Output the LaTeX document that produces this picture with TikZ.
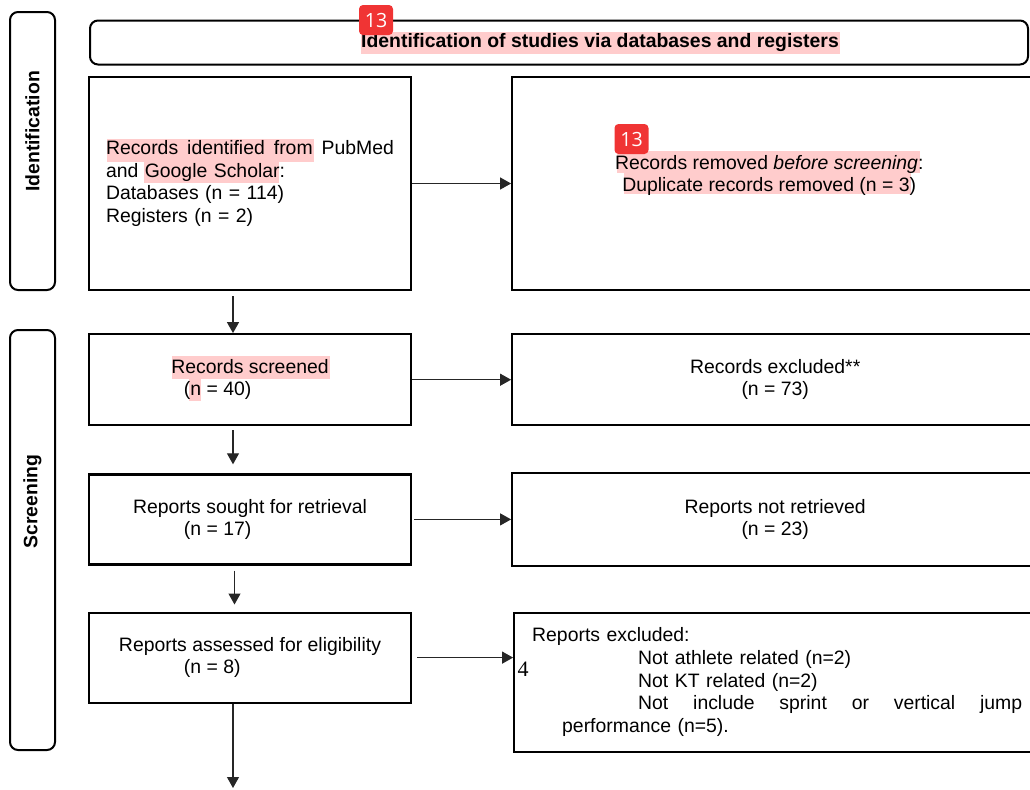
\documentclass[tikz,border=0pt]{standalone}
\usepackage{fontspec}
\setmainfont{Liberation Sans}
\newfontfamily\badgefont{Open Sans}
\newfontfamily\serifdigit{Liberation Serif}
\usetikzlibrary{arrows.meta,positioning,backgrounds,calc}
\definecolor{badgered}{RGB}{240,52,52}
\newcommand{\flowfont}{\fontsize{9.7}{11.2}\selectfont}
\newcommand{\nrow}[1]{\makebox[66pt][l]{#1}}

\begin{document}
\begin{tikzpicture}[x=0.5pt, y=-0.5pt,
  font=\flowfont,
  box/.style={draw, line width=1.1pt, align=center, inner sep=0pt, minimum width=161pt},
  rbox/.style={draw, line width=1.1pt, align=center, inner sep=0pt, minimum width=263pt},
  side/.style={draw, line width=1pt, rounded corners=4pt, minimum width=22.5pt},
  sidetxt/.style={rotate=90, inner sep=0pt, font=\flowfont\bfseries},
  hl/.style={fill=red!20, draw=none},
  badge/.style={fill=badgered, rounded corners=2pt, text=white, inner sep=0pt,
    font=\badgefont\fontsize{9.8}{10}\selectfont, minimum width=17pt, minimum height=15pt},
  arr/.style={->, line width=0.6pt, black!85},
  >={Triangle[length=5.5pt,width=6pt]}]
\useasboundingbox (0,0) rectangle (1030,789);
\clip (0,0) rectangle (1030,789);
% phase bars
\node[side, minimum height=139pt] (idside) at (32.5,151) {};
\node[side, minimum height=210pt] (scrside) at (32.5,540) {};
\node[sidetxt] (idlbl) at (32.5,131.5) {Identification};
\node[sidetxt] (scrlbl) at (32.5,501.5) {Screening};
% header
\node[draw, line width=1pt, rounded corners=4pt, minimum width=469pt, minimum height=22pt,
  font=\flowfont\bfseries] (hdr) at (559,42.5) {\hspace*{41pt}Identification of studies via databases and registers};
% main column
\node[box, minimum height=106.5pt, align=left, text width=144pt] (ident) at (250,183.5)
  {\makebox[144pt][s]{Records\hfill identified\hfill from\hfill PubMed}\\and Google Scholar:\\Databases (n = 114)\\Registers (n = 2)};
\node[box, minimum height=45.5pt, below=21pt of ident] (screen) {Records screened\\\nrow{(n = 40)}};
\node[box, minimum height=45pt, below=23.5pt of screen] (sought) {Reports sought for retrieval\\\nrow{(n = 17)}};
\node[box, minimum height=45pt, below=23pt of sought] (assess) {Reports assessed for eligibility\\\nrow{(n = 8)}};
% side column
\node[rbox, minimum height=106.5pt, right=49.5pt of ident] (removed) {};
\node[align=center] (removedtxt) at ([xshift=-3pt, yshift=4pt]removed.center)
  {Records removed \textit{before screening}:\\Duplicate records removed (n = 3)};
\node[rbox, minimum height=45.5pt, right=49.5pt of screen] (recexcl) {Records excluded**\\(n = 73)};
\node[rbox, minimum height=46.5pt, right=49.5pt of sought] (notret) {Reports not retrieved\\(n = 23)};
\node[rbox, minimum height=69.5pt, text width=246pt, inner xsep=9pt, align=left,
  font=\fontsize{9.7}{11.3}\selectfont,
  right=50.5pt of assess.north east, anchor=north west] (repexcl)
  {Reports excluded:\\
   \hspace*{53pt}Not athlete related (n=2)\\
   \hspace*{53pt}Not KT related (n=2)\\
   \hspace*{53pt}\makebox[192pt][s]{Not\hfill include\hfill sprint\hfill or\hfill vertical\hfill jump}\\
   \hspace*{15pt}performance (n=5).};
\node[inner sep=0pt, font=\serifdigit\fontsize{11}{11}\selectfont] (stray) at (523,669) {4};
\coordinate (next) at (233,788);
% highlights
\begin{scope}[on background layer]
  \fill[hl] (107,139) rectangle (314,162);
  \fill[hl] (144,162) rectangle (279,183);
  \fill[hl] (361,32) rectangle (840,54);
  \fill[hl] (617,151) rectangle (920,173);
  \fill[hl] (624,173) rectangle (911,194);
  \fill[hl] (172,356) rectangle (330,379);
  \fill[hl] (189,379) rectangle (201,401);
\end{scope}
% connectors
\draw[arr] (ident.east) -- (removed.west);
\draw[arr] (screen) -- (recexcl);
\draw[arr, shorten <=1pt] (sought) -- (notret);
\draw[arr, shorten <=2.5pt] (assess.east) -- (assess.east -| repexcl.west);
\draw[arr, shorten <=2.5pt] ([xshift=-8.5pt]ident.south) -- ([xshift=-8.5pt]screen.north);
\draw[arr, shorten <=2pt, shorten >=4.5pt] ([xshift=-8.5pt]screen.south) -- ([xshift=-8.5pt]sought.north);
\draw[arr, shorten <=2.5pt, shorten >=3.5pt] ([xshift=-7.75pt]sought.south) -- ([xshift=-7.75pt]assess.north);
\draw[arr] (assess.south -| next) -- (next);
% comment markers
\node[badge] (badge1) at (376,20) {13};
\node[badge] (badge2) at (631.5,139) {13};
\end{tikzpicture}
\end{document}
